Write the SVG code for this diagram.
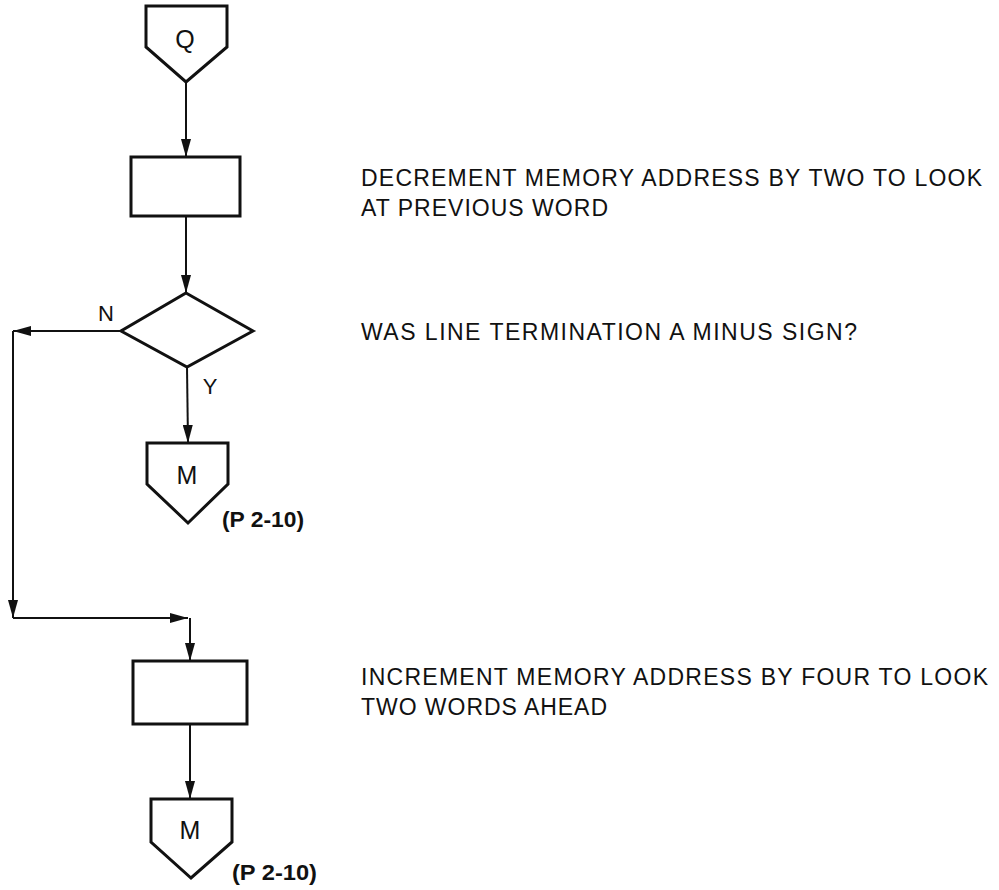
<svg xmlns="http://www.w3.org/2000/svg" width="999" height="890" viewBox="0 0 999 890">
  <style>
    .shape { fill: none; stroke: #111; stroke-width: 3; stroke-linejoin: miter; }
    .flow { fill: none; stroke: #111; stroke-width: 2; }
    .txt { font-family: "Liberation Sans", Arial, sans-serif; fill: #111; }
    .note { font-size: 23px; }
    .sym { font-size: 22px; text-anchor: middle; }
    .big { font-size: 25px; }
    .ref { font-size: 22px; font-weight: bold; }
  </style>
  <defs>
    <marker id="arrow" viewBox="0 0 18 10" refX="18" refY="5" markerWidth="18" markerHeight="10" markerUnits="userSpaceOnUse" orient="auto">
      <path d="M0,0 L18,5 L0,10 Z" fill="#111"/>
    </marker>
  </defs>
  <rect width="999" height="890" fill="#fff"/>

  <!-- connectors -->
  <g id="connectors">
    <line class="flow" x1="186" y1="82" x2="186" y2="157" marker-end="url(#arrow)"/>
    <line class="flow" x1="186" y1="216" x2="186" y2="293" marker-end="url(#arrow)"/>
    <line class="flow" x1="187" y1="367" x2="188" y2="443" marker-end="url(#arrow)"/>
    <line class="flow" x1="121" y1="331" x2="13" y2="331" marker-end="url(#arrow)"/>
    <line class="flow" x1="13" y1="331" x2="13" y2="618" marker-end="url(#arrow)"/>
    <line class="flow" x1="13" y1="618" x2="188" y2="618" marker-end="url(#arrow)"/>
    <line class="flow" x1="190" y1="618" x2="190" y2="661" marker-end="url(#arrow)"/>
    <line class="flow" x1="190" y1="724" x2="190" y2="799" marker-end="url(#arrow)"/>
    <text class="txt sym" x="106" y="321">N</text>
    <text class="txt sym" x="210" y="394">Y</text>
  </g>

  <!-- entry connector Q -->
  <g id="node-q">
    <path class="shape" d="M146,6 L227,6 L227,47 L186,82 L146,47 Z"/>
    <text class="txt sym big" x="185" y="48">Q</text>
  </g>

  <!-- decrement step -->
  <g id="node-decrement">
    <rect class="shape" x="131" y="157" width="109" height="59"/>
    <text class="txt note" x="361" y="186" textLength="621" lengthAdjust="spacing">DECREMENT MEMORY ADDRESS BY TWO TO LOOK</text>
    <text class="txt note" x="361" y="216" textLength="247" lengthAdjust="spacing">AT PREVIOUS WORD</text>
  </g>

  <!-- minus sign test -->
  <g id="node-decision">
    <path class="shape" d="M186,293 L253,331 L187,367 L121,331 Z"/>
    <text class="txt note" x="361" y="340" textLength="496" lengthAdjust="spacing">WAS LINE TERMINATION A MINUS SIGN?</text>
  </g>

  <!-- exit connector M (yes branch) -->
  <g id="node-m1">
    <path class="shape" d="M147,443 L228,443 L228,484 L188,523 L147,484 Z"/>
    <text class="txt sym big" x="187" y="484">M</text>
    <text class="txt ref" x="222" y="527" textLength="82" lengthAdjust="spacingAndGlyphs">(P 2-10)</text>
  </g>

  <!-- increment step -->
  <g id="node-increment">
    <rect class="shape" x="133" y="661" width="114" height="63"/>
    <text class="txt note" x="361" y="685" textLength="627" lengthAdjust="spacing">INCREMENT MEMORY ADDRESS BY FOUR TO LOOK</text>
    <text class="txt note" x="361" y="715" textLength="246" lengthAdjust="spacing">TWO WORDS AHEAD</text>
  </g>

  <!-- exit connector M (after increment) -->
  <g id="node-m2">
    <path class="shape" d="M151,799 L232,799 L232,842 L191,878 L151,842 Z"/>
    <text class="txt sym big" x="190" y="839">M</text>
    <text class="txt ref" x="232" y="880" textLength="85" lengthAdjust="spacingAndGlyphs">(P 2-10)</text>
  </g>
</svg>
